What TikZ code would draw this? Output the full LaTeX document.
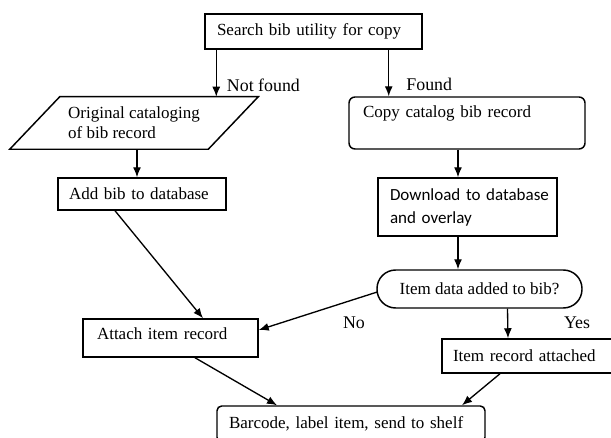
\documentclass[tikz,border=0pt]{standalone}
\usepackage{fontspec}
\setmainfont{Liberation Serif}
\newfontfamily\calibfont{Carlito}
\usetikzlibrary{arrows.meta,calc}
\newcommand\myfs{\fontsize{12.75}{15}\selectfont}
\newcommand\mylblfs{\fontsize{13.4}{15}\selectfont}
\newcommand\mysansfs{\calibfont\fontsize{12.75}{17.25}\selectfont}
\begin{document}
\begin{tikzpicture}[x=0.75pt,y=-0.75pt,
  box/.style={draw, line width=1.1pt, inner ysep=0pt, font=\myfs, align=left},
  arr/.style={-{Latex[length=7.5pt,width=6pt]}, line width=1pt},
  lbl/.style={inner sep=0pt, font=\mylblfs}]
\useasboundingbox (0,0) rectangle (611,438);
\fill[white] (0,0) rectangle (611,438);

\node[box, minimum width=162.75pt, minimum height=26.25pt, inner xsep=9pt, text width=144.75pt] (search) at (313.5,31.5) {Search bib utility for copy};

\node[font=\myfs, align=left, minimum width=186pt, minimum height=39pt, inner sep=0pt] (orig) at (134,123) {Original cataloging\\of bib record};
\draw[line width=1.1pt] ($(orig.north west)+(50,0)$) -- (orig.north east) -- ($(orig.south east)+(-50,0)$) -- (orig.south west) -- cycle;

\node[box, rounded corners=4.5pt, minimum width=177pt, minimum height=39pt, inner xsep=10.5pt, text width=156pt, text height=9pt, text depth=16.5pt] (copy) at (467,123) {Copy catalog bib record};

\node[box, minimum width=126pt, minimum height=24pt, inner xsep=8.25pt, text width=109.5pt] (add) at (142,194) {Add bib to database};

\node[box, font=\mysansfs, minimum width=134.25pt, minimum height=43.5pt, inner xsep=9pt, text width=116.25pt] (dl) at (467.5,207) {\mbox{Download to database}\\and overlay};

\node[box, rounded corners=14pt, minimum width=153.75pt, minimum height=28.5pt, align=center] (ell) at (479.5,289) {Item data added to bib?};

\node[box, minimum width=131.25pt, minimum height=28.5pt, inner xsep=10.5pt, text width=110.25pt, text height=9pt, text depth=6pt] (att) at (170.5,338) {Attach item record};

\node[box, minimum width=133.5pt, minimum height=25.5pt, inner xsep=8.25pt, text width=117pt] (ira) at (531,356) {Item record attached};

\node[box, rounded corners=3.5pt, minimum width=201pt, minimum height=27pt, inner xsep=9pt, text width=183pt] (bar) at (351,424) {Barcode, label item, send to shelf};

\coordinate (s1) at ($(search.south west)+(12,0)$);
\coordinate (s2) at ($(search.south east)+(-34,0)$);
\draw[arr] (s1) -- (s1 |- orig.north) node[lbl, pos=0.75, anchor=west, xshift=7.5pt] (nf) {Not found};
\draw[arr] (s2) -- (s2 |- copy.north) node[lbl, pos=0.75, anchor=west, xshift=12.75pt] (fd) {Found};

\coordinate (o1) at ($(orig.south)+(3,0)$);
\draw[arr] (o1) -- (o1 |- add.north);
\coordinate (c1) at ($(copy.south)+(-9,0)$);
\draw[arr] (c1) -- (c1 |- dl.north);
\coordinate (d1) at ($(dl.south)+(-9.5,0)$);
\draw[arr] (d1) -- (d1 |- ell.north);

\draw[arr] ($(add.south)+(-27,0)$) -- ($(att.north)+(32.5,0)$);
\draw[arr] ($(ell.west)+(1,3)$) -- ($(att.east)+(0,-8)$);
\node[lbl] (no) at (354,323) {No};
\draw[arr] ($(ell.south)+(28,0)$) -- ($(ira.north)+(-23,0)$);
\node[lbl] (yes) at (577,323) {Yes};
\draw[arr] ($(att.south)+(24.5,0)$) -- ($(bar.north)+(-74,0)$);
\draw[arr] ($(ira.south)+(-31,0)$) -- ($(bar.north)+(111,0)$);
\end{tikzpicture}
\end{document}
